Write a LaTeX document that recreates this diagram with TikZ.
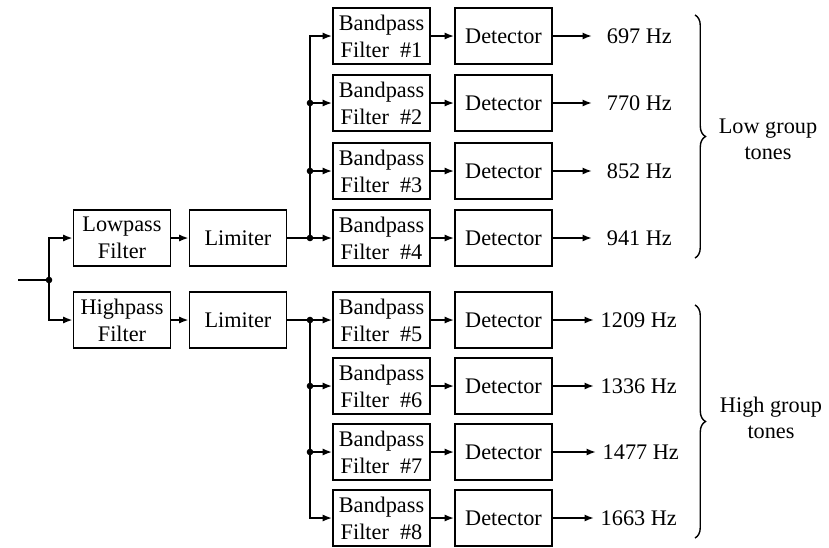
\documentclass[tikz,border=0pt]{standalone}
\usepackage{fontspec}
\setmainfont{Liberation Serif}
\usetikzlibrary{arrows.meta,positioning,decorations.pathreplacing}

\begin{document}
\begin{tikzpicture}[x=0.03cm,y=-0.03cm,line width=1.5pt,
  font=\fontsize{19}{23}\selectfont,
  >={Latex[length=8pt,width=6pt]}]
  \tikzset{blk/.style={draw, line width=1.5pt, minimum width=2.91cm, minimum height=1.68cm,
      inner sep=1pt, align=center},
    lofreq/.style={anchor=west, inner xsep=12pt, inner ysep=0pt},
    hifreq/.style={anchor=west, inner xsep=5pt, inner ysep=0pt},
    grp/.style={align=center, font=\fontsize{19}{22}\selectfont}}
  \useasboundingbox (0,0) rectangle (829,547);

  \coordinate (in) at (18,280);
  \coordinate (j0) at (49,280);
  \node[blk] (lp) at (122,238) {Lowpass\\Filter};
  \node[blk] (hp) at (122,320) {Highpass\\Filter};
  \node[blk] (liml) at (238,238) {Limiter};
  \node[blk] (limh) at (238,320) {Limiter};

  \node[blk] (bp1) at (381.5,36) {Bandpass\\Filter~ \#1};
  \node[blk] (bp2) at (381.5,103) {Bandpass\\Filter~ \#2};
  \node[blk] (bp3) at (381.5,171) {Bandpass\\Filter~ \#3};
  \node[blk] (bp4) at (381.5,238) {Bandpass\\Filter~ \#4};
  \node[blk] (bp5) at (381.5,320) {Bandpass\\Filter~ \#5};
  \node[blk] (bp6) at (381.5,386) {Bandpass\\Filter~ \#6};
  \node[blk] (bp7) at (381.5,452) {Bandpass\\Filter~ \#7};
  \node[blk] (bp8) at (381.5,518) {Bandpass\\Filter~ \#8};

  \node[blk] (det1) at (503.5,36) {Detector};
  \node[blk] (det2) at (503.5,103) {Detector};
  \node[blk] (det3) at (503.5,171) {Detector};
  \node[blk] (det4) at (503.5,238) {Detector};
  \node[blk] (det5) at (503.5,320) {Detector};
  \node[blk] (det6) at (503.5,386) {Detector};
  \node[blk] (det7) at (503.5,452) {Detector};
  \node[blk] (det8) at (503.5,518) {Detector};

  \node[lofreq] (f1) at (592,36) {697 Hz};
  \node[lofreq] (f2) at (592,103) {770 Hz};
  \node[lofreq] (f3) at (592,171) {852 Hz};
  \node[lofreq] (f4) at (592,238) {941 Hz};
  \node[hifreq] (f5) at (594,320) {1209 Hz};
  \node[hifreq] (f6) at (594,386) {1336 Hz};
  \node[hifreq] (f7) at (596,452) {1477 Hz};
  \node[hifreq] (f8) at (594,518) {1663 Hz};

  % input split
  \draw (in) -- (j0);
  \draw[->] (j0) |- (lp);
  \draw[->] (j0) |- (hp);
  \fill (j0) circle (2.8pt);
  \draw[->] (lp) -- (liml);
  \draw[->] (hp) -- (limh);

  % low group bus
  \coordinate (bl) at (310,238);
  \draw[->] (liml) -- (bp4);
  \draw[->] (bl) |- (bp1);
  \draw[->] (bl |- bp2) -- (bp2);
  \draw[->] (bl |- bp3) -- (bp3);
  \fill (bl) circle (2.8pt) (bl |- bp2) circle (2.8pt) (bl |- bp3) circle (2.8pt);

  % high group bus
  \coordinate (bh) at (310,320);
  \draw[->] (limh) -- (bp5);
  \draw[->] (bh) |- (bp8);
  \draw[->] (bh |- bp6) -- (bp6);
  \draw[->] (bh |- bp7) -- (bp7);
  \fill (bh) circle (2.8pt) (bh |- bp6) circle (2.8pt) (bh |- bp7) circle (2.8pt);

  \draw[->] (bp1) -- (det1);
  \draw[->] (bp2) -- (det2);
  \draw[->] (bp3) -- (det3);
  \draw[->] (bp4) -- (det4);
  \draw[->] (bp5) -- (det5);
  \draw[->] (bp6) -- (det6);
  \draw[->] (bp7) -- (det7);
  \draw[->] (bp8) -- (det8);

  \draw[->] (det1) -- (f1);
  \draw[->] (det2) -- (f2);
  \draw[->] (det3) -- (f3);
  \draw[->] (det4) -- (f4);
  \draw[->] (det5) -- (f5);
  \draw[->] (det6) -- (f6);
  \draw[->] (det7) -- (f7);
  \draw[->] (det8) -- (f8);

  % braces
  \coordinate (lotop) at (695,15);
  \coordinate (lobot) at (695,258);
  \coordinate (hitop) at (695,305);
  \coordinate (hibot) at (695,538);
  \draw[line width=1.2pt, decorate, decoration={brace, amplitude=9pt}] (lotop) -- (lobot);
  \draw[line width=1.2pt, decorate, decoration={brace, amplitude=9pt}] (hitop) -- (hibot);
  \node[grp] (lowtxt) at (768,139) {Low group\\tones};
  \node[grp] (hightxt) at (771,418) {High group\\tones};
\end{tikzpicture}
\end{document}
